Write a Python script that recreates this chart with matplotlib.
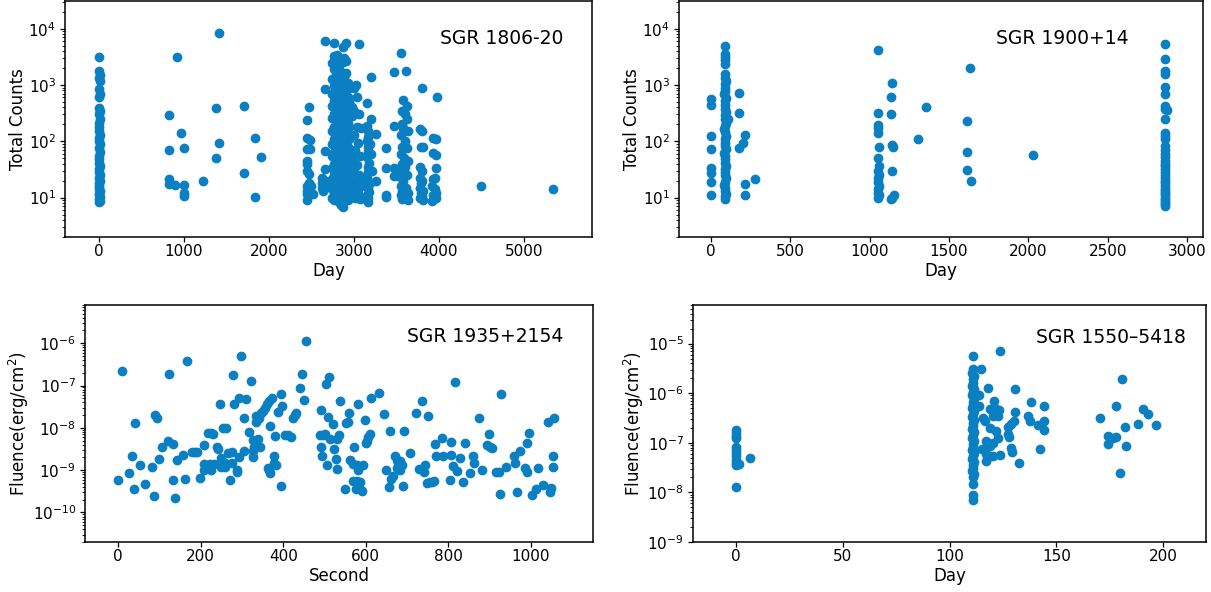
import matplotlib
matplotlib.use('Agg')
import matplotlib.pyplot as plt

COLOR = '#0a80c2'

# ---------------- SGR 1806-20 (Day, Total Counts) ----------------
sgr1806_day0_counts = [3170, 1780, 1500, 1350, 1180, 840, 680, 600, 395, 340, 300, 245,
                       210, 180, 150, 130, 115, 100, 88, 75, 65, 55, 48, 42, 37, 32, 28,
                       25, 22, 20, 18, 16, 14.5, 13, 12, 11, 10.2, 9.5, 8.8, 8.3]
sgr1806_day0_days = [0, 5, 8, 3, 6, 4, 7, 2, 0, 6, 3, 8, 1, 5, 3, 7, 0, 4, 6, 2, 8, 1, 5,
                     3, 7, 0, 4, 6, 2, 8, 1, 5, 3, 7, 0, 4, 6, 2, 8, 1]
sgr1806_points = [
    (827, 298), (827, 69), (827, 21), (827, 17.2), (914, 3170), (894, 16.5), (961, 141),
    (1004, 76), (1004, 16.8), (1004, 12.2), (1004, 10.7), (1224, 19.8), (1373, 395),
    (1373, 50), (1416, 8300), (1416, 92), (1702, 425), (1702, 27), (1831, 115),
    (1831, 10.4), (1906, 52),
    (2451, 236), (2475, 407), (2443, 113), (2482, 104), (2482, 72), (2443, 72), (2443, 45),
    (2443, 39), (2475, 26), (2475, 18.5), (2443, 16), (2443, 11.5), (2443, 9.0),
    (2522, 11.8), (2490, 16), (2450, 30), (2450, 13),
    (2659, 6000), (2659, 850), (2659, 67), (2659, 32), (2620, 22.6), (2620, 18), (2620, 15),
    (2680, 16), (2640, 13), (2660, 20),
    (3063, 5400), (3020, 1000), (3030, 600), (3000, 340), (3060, 300), (2980, 280),
    (3040, 180), (3080, 170), (3000, 130), (3050, 95), (3010, 70), (3070, 55), (2990, 45),
    (3040, 38), (3000, 28), (3060, 25), (3020, 20), (3080, 16), (2990, 14), (3050, 12),
    (3010, 10), (3070, 9.5), (3030, 11), (2975, 18), (2975, 60), (2975, 400), (3090, 9.8),
    (3090, 20), (3000, 900),
    (3200, 1380), (3157, 480), (3200, 245), (3259, 133), (3150, 190), (3160, 150),
    (3170, 120), (3150, 100), (3170, 80), (3160, 65), (3150, 52), (3180, 42), (3160, 35),
    (3170, 28), (3155, 22), (3185, 18), (3160, 15), (3175, 12.5), (3150, 11), (3170, 10),
    (3160, 8.5), (3259, 20), (3200, 60), (3210, 30), (3190, 90),
    (3376, 77), (3376, 34), (3376, 10.3), (3376, 11), (3475, 1720), (3475, 187), (3475, 34),
    (3475, 24),
    (3549, 3700), (3616, 1780), (3573, 540), (3627, 420), (3560, 350), (3600, 300),
    (3620, 250), (3560, 200), (3580, 170), (3630, 150), (3550, 130), (3600, 100), (3570, 80),
    (3620, 75), (3550, 60), (3590, 50), (3630, 45), (3560, 40), (3600, 35), (3560, 27),
    (3620, 25), (3580, 20), (3550, 16), (3610, 15), (3570, 13), (3630, 12), (3550, 11),
    (3600, 10), (3570, 9.3), (3630, 9.2), (3520, 24), (3540, 34),
    (3796, 870), (3780, 163), (3800, 150), (3790, 80), (3810, 78), (3780, 35), (3800, 30),
    (3780, 22), (3800, 20), (3790, 18), (3780, 15), (3810, 13), (3790, 12), (3800, 10.5),
    (3780, 9.7), (3810, 9.2),
    (3973, 600), (3930, 115), (3970, 108), (3930, 63), (3970, 56), (3970, 34), (3950, 22),
    (3930, 21), (3920, 16), (3950, 14), (3970, 12), (3930, 11), (3920, 8.8), (3970, 10),
    (4494, 16.1), (5345, 14.1),
]
sgr1806_burst_days = [2745, 2765, 2785, 2805, 2825, 2845, 2865, 2885, 2905, 2925, 2945]
sgr1806_burst_counts = [
    [2500, 1300, 700, 420, 260, 150, 90, 55, 33, 21, 14, 10],
    [5600, 3300, 1900, 950, 520, 310, 180, 110, 65, 40, 25, 16, 11, 9],
    [2800, 1500, 800, 450, 280, 170, 100, 62, 38, 24, 15, 10.5],
    [3400, 1200, 650, 380, 230, 140, 85, 50, 30, 19, 12.5, 9.5],
    [2200, 1000, 560, 330, 200, 120, 72, 44, 27, 17, 11.5, 8.5],
    [1700, 900, 480, 290, 175, 105, 64, 39, 24, 15, 10, 7.5],
    [4800, 2600, 1100, 600, 350, 210, 125, 75, 46, 28, 18, 12, 6.8],
    [3000, 1400, 750, 410, 250, 150, 92, 56, 34, 21, 13, 9],
    [5500, 2700, 1650, 1000, 540, 320, 190, 115, 70, 42, 26, 16, 11],
    [1100, 620, 360, 215, 130, 80, 48, 29, 18, 12, 9],
    [900, 500, 300, 180, 110, 66, 40, 25, 15, 10],
]

# ---------------- SGR 1900+14 (Day, Total Counts) ----------------
sgr1900_points = [
    (0, 556), (0, 450), (0, 124), (0, 74), (0, 33), (0, 27), (0, 19), (0, 11),
    (179, 730), (179, 324), (179, 75), (202, 95), (217, 130), (217, 17.5), (217, 11.2),
    (276, 21), (111, 245),
    (1055, 4100), (1055, 313), (1055, 196), (1055, 175), (1055, 142), (1060, 80),
    (1055, 50), (1058, 36), (1055, 30), (1058, 25), (1055, 22), (1055, 19), (1058, 16),
    (1055, 14), (1055, 12), (1058, 11), (1055, 10),
    (1139, 1100), (1133, 610), (1133, 300), (1143, 86), (1146, 80), (1139, 30),
    (1154, 11), (1133, 9.5), (1143, 10),
    (1307, 108), (1358, 407), (1633, 2020), (1612, 230), (1612, 65), (1612, 31),
    (1639, 20), (2030, 57), (2873, 355),
]
sgr1900_day90_counts = [5000, 3500, 3200, 2800, 2400, 1550, 1350, 1200, 1050, 900, 780,
                        680, 590, 510, 440, 380, 330, 290, 250, 215, 190, 165, 145, 125,
                        110, 95, 82, 72, 63, 55, 48, 42, 37, 32, 28, 25, 22, 19, 17, 15,
                        13, 11.5, 10.5, 9.5]
sgr1900_day90_days = [90, 88, 92, 90, 88, 92, 90, 94, 88, 92, 90, 86, 94, 90, 88, 92, 96,
                      90, 88, 94, 92, 86, 90, 96, 88, 92, 90, 94, 86, 92, 90, 88, 96, 90,
                      92, 88, 94, 90, 86, 92, 90, 94, 88, 92]
sgr1900_day2858_counts = [5400, 2950, 1780, 1540, 920, 680, 425, 370, 245, 142, 125, 110,
                          83, 70, 60, 52, 45, 40, 36, 32, 28, 25, 22, 20, 18, 16, 14.5, 13,
                          12, 11, 10, 9.2, 8.5, 7.8, 7.2]

# ---------------- SGR 1935+2154 (Second, Fluence) ----------------
sgr1935_points = [
    (0, 6.0e-10), (10, 2.2e-7), (27, 8.5e-10), (35, 2.2e-9), (40, 1.3e-8), (39, 3.5e-10),
    (53, 1.3e-9), (65, 4.7e-10), (82, 1.2e-9), (86, 2.5e-10), (90, 2.05e-8), (94, 1.7e-8),
    (99, 1.8e-9), (107, 3.6e-9), (121, 5.0e-9), (123, 1.85e-7), (132, 6.0e-10),
    (134, 4.2e-9), (139, 2.2e-10), (143, 1.7e-9), (158, 2.25e-9), (163, 6.3e-10),
    (166, 3.8e-7), (178, 2.7e-9), (186, 2.75e-9), (190, 2.7e-9), (198, 6.5e-10),
    (207, 3.9e-9), (208, 1.4e-9), (209, 1.0e-9), (218, 7.4e-9), (224, 7.6e-9),
    (229, 7.0e-9), (214, 1.35e-9), (222, 1.4e-9), (232, 1.4e-9), (226, 1.0e-9),
    (240, 3.5e-9), (241, 3.1e-9), (247, 3.6e-8), (250, 1.9e-9), (250, 1.2e-9),
    (255, 1.0e-8), (261, 1.0e-8), (258, 1.2e-9), (260, 1.45e-9), (267, 2.5e-9),
    (270, 5.9e-10), (277, 2.7e-9), (277, 1.45e-9), (278, 1.8e-7), (281, 3.6e-8),
    (287, 1.0e-9), (289, 8.9e-10), (292, 2.0e-9), (293, 5.1e-8), (297, 5.0e-7),
    (305, 2.8e-9), (306, 1.7e-8), (311, 4.8e-8), (317, 7.8e-9), (321, 1.3e-7),
    (326, 2.9e-9), (326, 2.0e-9), (327, 5.1e-9), (330, 3.6e-9), (333, 1.9e-8),
    (335, 1.4e-8), (340, 5.4e-9), (344, 3.5e-9), (342, 1.7e-8), (347, 2.2e-8),
    (352, 2.5e-8), (356, 3.0e-8), (361, 3.6e-8), (366, 4.2e-8), (372, 5.0e-8),
    (364, 1.1e-9), (365, 1.0e-9), (368, 8.6e-10), (369, 1.1e-8), (377, 2.2e-9),
    (378, 1.5e-9), (383, 1.3e-9), (381, 6.3e-9), (388, 2.4e-8), (395, 6.4e-8),
    (394, 4.3e-10), (398, 3.3e-8), (405, 6.9e-9), (411, 6.8e-9), (419, 6.2e-9),
    (424, 1.7e-8), (428, 2.0e-8), (432, 2.2e-8), (441, 8.9e-8), (446, 1.85e-7),
    (451, 4.5e-8), (455, 1.14e-6),
    (491, 2.7e-8), (491, 3.6e-9), (494, 2.2e-9), (490, 6.8e-9), (497, 6.8e-9),
    (501, 7.3e-9), (504, 1.1e-7), (511, 1.55e-7), (509, 1.8e-8), (505, 1.3e-9),
    (513, 5.3e-9), (521, 1.2e-8), (524, 3.2e-9), (527, 1.8e-9), (530, 1.05e-9),
    (531, 5.5e-9), (534, 6.8e-9), (538, 4.3e-8), (549, 3.6e-10), (553, 1.3e-8),
    (556, 1.4e-8), (560, 2.2e-8), (562, 1.7e-9), (568, 1.4e-9), (568, 5.4e-10),
    (572, 3.6e-9), (577, 3.5e-10), (578, 1.3e-9), (578, 5.4e-10), (581, 3.6e-8),
    (582, 1.0e-9), (585, 5.1e-10), (586, 3.5e-10), (590, 3.2e-10), (593, 1.3e-9),
    (597, 1.55e-8), (600, 4.3e-9), (602, 4.8e-9), (606, 6.2e-9), (611, 7.0e-9),
    (613, 5.0e-8), (633, 6.8e-8), (645, 2.1e-8), (649, 1.0e-9), (655, 4.0e-10),
    (658, 8.5e-9), (662, 6.3e-10), (666, 7.2e-10), (671, 2.1e-9), (675, 1.75e-9),
    (679, 1.5e-9), (683, 1.6e-9), (687, 1.35e-9), (675, 1.1e-9), (683, 1.0e-9),
    (693, 8.5e-9), (691, 4.3e-10), (708, 2.6e-9), (722, 2.3e-8), (728, 1.05e-9),
    (736, 4.4e-8), (740, 9.1e-10), (744, 1.35e-9), (747, 5.0e-10), (750, 1.9e-8),
    (756, 5.3e-10), (760, 5.2e-10), (764, 5.5e-10), (768, 4.2e-9), (771, 2.1e-9),
    (785, 5.9e-9), (786, 2.1e-9), (803, 5.9e-10), (805, 4.7e-9), (807, 2.3e-9),
    (810, 1.25e-9), (815, 1.24e-7), (821, 9.5e-10), (827, 1.9e-9), (835, 5.3e-10),
    (840, 4.3e-9), (852, 8.5e-10), (859, 2.1e-9), (861, 1.5e-9), (874, 1.7e-8),
    (882, 1.0e-9), (893, 3.9e-9), (898, 7.2e-9), (901, 3.6e-9), (905, 3.4e-9),
    (915, 8.8e-10), (922, 9.1e-10), (925, 2.7e-10), (927, 6.3e-8), (939, 1.2e-9),
    (959, 2.1e-9), (960, 1.5e-9), (967, 3.1e-10), (973, 2.9e-9), (985, 1.1e-9),
    (989, 4.3e-9), (991, 9.1e-10), (995, 7.5e-9), (1003, 2.6e-10), (1011, 3.6e-10),
    (1017, 1.1e-9), (1029, 4.4e-10), (1041, 1.35e-8), (1056, 1.7e-8), (1052, 2.2e-9),
    (1053, 1.2e-9), (1048, 3.7e-10), (1046, 3.0e-10),
]

# ---------------- SGR 1550-5418 (Day, Fluence) ----------------
sgr1550_points = [
    (0, 1.8e-7), (0, 1.6e-7), (0, 1.35e-7), (0, 1.25e-7), (0, 8.4e-8), (0, 7.2e-8),
    (0, 6.2e-8), (0, 5.3e-8), (0, 4.5e-8), (0, 3.9e-8), (0, 3.6e-8), (1.4, 3.7e-8),
    (0, 1.3e-8), (6.9, 5.0e-8),
    (114.8, 3.1e-6), (123.4, 7.1e-6), (118, 1.3e-6), (130.8, 1.23e-6), (114, 9.0e-7),
    (121, 6.9e-7), (118.8, 4.7e-7), (121.9, 4.9e-7), (120.3, 3.4e-7), (123, 4.5e-7),
    (122.7, 3.4e-7), (130.5, 4.1e-7), (114, 5.5e-7), (115.6, 3.2e-7), (116.4, 2.7e-7),
    (118.8, 2.0e-7), (127.3, 2.1e-7), (128.9, 2.4e-7), (130, 2.8e-7), (127.8, 1.3e-7),
    (127.3, 1.5e-7), (121.9, 1.7e-7), (122.7, 1.24e-7), (120.3, 9.8e-8), (118.8, 8.5e-8),
    (117.2, 1.1e-7), (115.3, 7.5e-8), (117.2, 6.0e-8), (118.8, 5.3e-8), (120.3, 5.3e-8),
    (123.4, 5.7e-8), (116.9, 4.2e-8), (128.6, 7.8e-8), (129.2, 6.5e-8), (132.5, 4.0e-8),
    (138.3, 6.6e-7), (144.4, 5.6e-7), (136.7, 3.4e-7), (137.8, 2.7e-7), (141.4, 2.3e-7),
    (144.2, 2.7e-7), (144.2, 1.8e-7), (142.2, 7.5e-8),
    (170.3, 3.1e-7), (180.5, 1.9e-6), (178.1, 5.6e-7), (174.2, 1.34e-7), (174.2, 9.5e-8),
    (176.6, 1.25e-7), (177.8, 1.3e-7), (179.7, 2.5e-8), (182.3, 2.1e-7), (182.5, 8.5e-8),
    (188, 2.4e-7), (190.6, 4.7e-7), (192.7, 3.8e-7), (196.6, 2.3e-7),
]
sgr1550_day110_fluence = [5.5e-6, 3.1e-6, 2.6e-6, 2.2e-6, 1.9e-6, 1.6e-6, 1.4e-6, 1.2e-6,
                          1.05e-6, 9.0e-7, 7.8e-7, 6.8e-7, 5.9e-7, 5.1e-7, 4.4e-7, 3.8e-7,
                          3.3e-7, 2.9e-7, 2.5e-7, 2.2e-7, 1.9e-7, 1.65e-7, 1.45e-7,
                          1.25e-7, 1.1e-7, 9.5e-8, 8.2e-8, 7.1e-8, 6.2e-8, 5.4e-8, 4.7e-8,
                          4.1e-8, 3.6e-8, 3.1e-8, 2.7e-8, 2.3e-8, 2.0e-8, 1.5e-8, 9.0e-9,
                          7.0e-9]
sgr1550_day110_days = [111, 111, 110.5, 111.5, 110.8, 111.2, 110.5, 111.5, 111, 110.6,
                       111.4, 110.8, 111.2, 110.5, 111.5, 111, 110.6, 111.4, 110.8, 111.2,
                       110.5, 111.5, 111, 110.6, 111.4, 110.8, 111.2, 110.5, 111.5, 111,
                       110.6, 111.4, 110.8, 111.2, 110.5, 111.5, 111, 110.8, 111, 111]

# tick positions shown on the log axes
counts_yticks = [1e1, 1e2, 1e3, 1e4]
sgr1935_yticks = [1e-10, 1e-9, 1e-8, 1e-7, 1e-6]
sgr1550_yticks = [1e-9, 1e-8, 1e-7, 1e-6, 1e-5]

# ---------------- Figure ----------------
W, H = 1211, 592
fig = plt.figure(figsize=(W / 100, H / 100), dpi=100)


def add_ax(left, right, top, bottom):
    return fig.add_axes([left / W, 1 - bottom / H, (right - left) / W, (bottom - top) / H])


def style(ax, yticks):
    ax.set_yscale('log')
    ax.set_yticks(yticks)
    ax.tick_params(axis='both', which='major', labelsize=11, direction='out', length=3.5,
                   width=0.9)
    ax.tick_params(axis='x', which='major', pad=1.5)
    ax.tick_params(axis='y', which='major', pad=3)
    ax.tick_params(axis='y', which='minor', direction='out', length=2, width=0.6)
    for sp in ax.spines.values():
        sp.set_linewidth(1.1)


def unzip(points):
    return [p[0] for p in points], [p[1] for p in points]


MS = 36

# Top-left
ax1 = add_ax(65, 592, 1, 237)
style(ax1, counts_yticks)
ax1.scatter(sgr1806_day0_days, sgr1806_day0_counts, s=MS, color=COLOR)
for d, cs in zip(sgr1806_burst_days, sgr1806_burst_counts):
    ax1.scatter([d] * len(cs), cs, s=MS, color=COLOR)
x, y = unzip(sgr1806_points)
ax1.scatter(x, y, s=MS, color=COLOR)
ax1.set_xlim(-400, 5800)
ax1.set_ylim(2, 3.1e4)
ax1.set_xlabel('Day', fontsize=12, labelpad=2)
ax1.set_ylabel('Total Counts', fontsize=12, labelpad=1)
ax1.text(0.945, 0.84, 'SGR 1806-20', transform=ax1.transAxes, ha='right', va='center',
         fontsize=13.5)

# Top-right
ax2 = add_ax(679, 1203, 1, 237)
style(ax2, counts_yticks)
ax2.scatter(sgr1900_day90_days, sgr1900_day90_counts, s=MS, color=COLOR)
ax2.scatter([2858] * len(sgr1900_day2858_counts), sgr1900_day2858_counts, s=MS, color=COLOR)
x, y = unzip(sgr1900_points)
ax2.scatter(x, y, s=MS, color=COLOR)
ax2.set_xlim(-200, 3100)
ax2.set_ylim(2, 3.1e4)
ax2.set_xlabel('Day', fontsize=12, labelpad=2)
ax2.set_ylabel('Total Counts', fontsize=12, labelpad=1)
ax2.text(0.859, 0.84, 'SGR 1900+14', transform=ax2.transAxes, ha='right', va='center',
         fontsize=13.5)

# Bottom-left
ax3 = add_ax(85, 593, 305, 542)
style(ax3, sgr1935_yticks)
x, y = unzip(sgr1935_points)
ax3.scatter(x, y, s=MS, color=COLOR)
ax3.set_xlim(-80, 1150)
ax3.set_ylim(2e-11, 8e-6)
ax3.set_xlabel('Second', fontsize=12, labelpad=2)
ax3.set_ylabel('Fluence(erg/cm$^2$)', fontsize=12, labelpad=1)
ax3.text(0.941, 0.865, 'SGR 1935+2154', transform=ax3.transAxes, ha='right', va='center',
         fontsize=13.5)

# Bottom-right
ax4 = add_ax(693, 1206, 305, 542)
style(ax4, sgr1550_yticks)
ax4.scatter(sgr1550_day110_days, sgr1550_day110_fluence, s=MS, color=COLOR)
x, y = unzip(sgr1550_points)
ax4.scatter(x, y, s=MS, color=COLOR)
ax4.set_xlim(-20, 220)
ax4.set_ylim(1e-9, 6e-5)
ax4.set_xlabel('Day', fontsize=12, labelpad=2)
ax4.set_ylabel('Fluence(erg/cm$^2$)', fontsize=12, labelpad=1)
ax4.text(0.961, 0.862, 'SGR 1550\u20135418', transform=ax4.transAxes, ha='right',
         va='center', fontsize=13.5)

fig.savefig('out.png', dpi=100)
